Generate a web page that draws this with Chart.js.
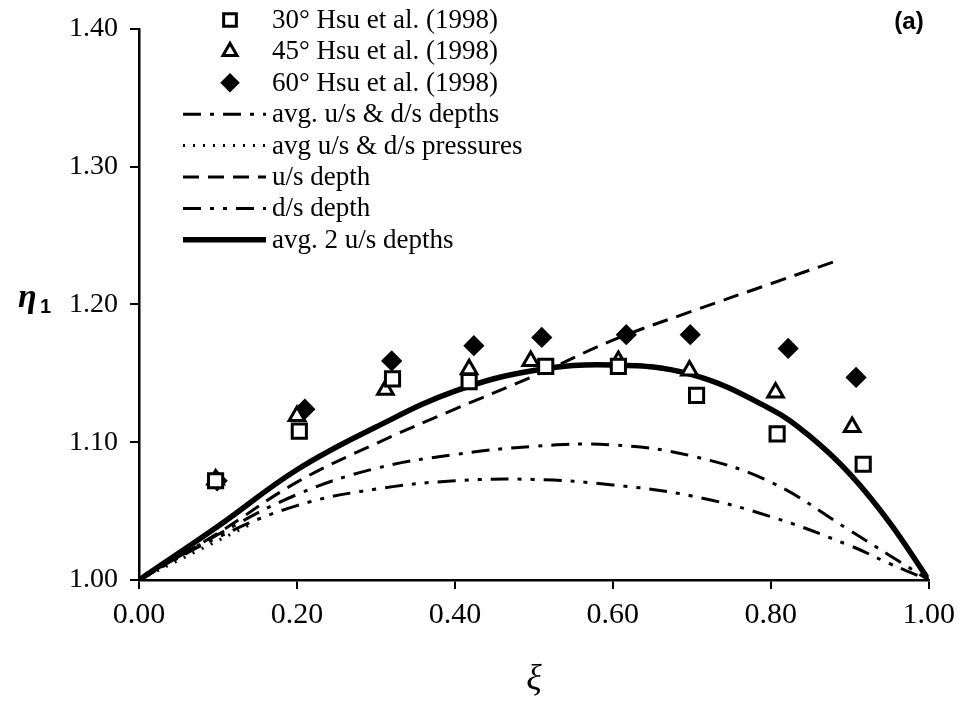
<!DOCTYPE html>
<html>
<head>
<meta charset="utf-8">
<title>eta1 vs xi</title>
<script src="https://cdn.jsdelivr.net/npm/chart.js@4.4.1/dist/chart.umd.min.js"></script>
<style>
  html, body { margin: 0; padding: 0; background: #fff; }
  #wrap { width: 963px; height: 718px; position: relative; }
</style>
</head>
<body>
<div id="wrap"><canvas id="etaChart"></canvas></div>
<script>
// Axis ticks
const xTicks = [0, 0.2, 0.4, 0.6, 0.8, 1.0];
const yTicks = [1.0, 1.1, 1.2, 1.3, 1.4];

// Experimental points (Hsu et al. 1998)
const hsu30X = [0.097, 0.203, 0.321, 0.418, 0.515, 0.607, 0.706, 0.808, 0.917];
const hsu30Y = [1.072, 1.108, 1.146, 1.144, 1.155, 1.155, 1.134, 1.106, 1.084];
const hsu45X = [0.097, 0.200, 0.312, 0.418, 0.496, 0.607, 0.697, 0.806, 0.903];
const hsu45Y = [1.073, 1.119, 1.138, 1.153, 1.159, 1.159, 1.152, 1.136, 1.111];
const hsu60X = [0.099, 0.210, 0.320, 0.424, 0.510, 0.617, 0.698, 0.822, 0.908];
const hsu60Y = [1.072, 1.124, 1.159, 1.170, 1.176, 1.178, 1.178, 1.168, 1.147];

// Model curves
const curveX = [0, 0.1, 0.2, 0.3, 0.4, 0.5, 0.6, 0.7, 0.8, 0.9, 0.95, 1.0];
const avgDepthsY = [1.000, 1.033, 1.062, 1.081, 1.091, 1.097, 1.098, 1.090, 1.071, 1.036, 1.018, 1.000];
const dsDepthY   = [1.000, 1.031, 1.054, 1.066, 1.072, 1.073, 1.069, 1.061, 1.046, 1.025, 1.012, 1.000];
const avg2X = [0, 0.1, 0.2, 0.3, 0.4, 0.5, 0.6, 0.7, 0.8, 0.85, 0.9, 0.95, 1.0];
const avg2UsY = [1.000, 1.039, 1.080, 1.111, 1.137, 1.152, 1.156, 1.149, 1.124, 1.104, 1.077, 1.042, 1.000];
const pressX = [0, 0.07, 0.14];
const pressY = [1.000, 1.020, 1.040];
const usX = [0, 0.1, 0.2, 0.3, 0.4, 0.5, 0.6, 0.7, 0.8, 0.885];
const usY = [1.000, 1.034, 1.071, 1.099, 1.124, 1.148, 1.174, 1.195, 1.215, 1.232];

function pts(xs, ys) {
    return xs.map((x, i) => ({ x: x, y: ys[i] }));
}

const SERIF = '"Liberation Serif", "DejaVu Serif", serif';

function lineSet(label, xs, ys, dash, width) {
    return {
        type: 'line',
        label: label,
        data: pts(xs, ys),
        borderColor: '#000',
        backgroundColor: '#000',
        borderWidth: width,
        borderDash: dash,
        pointRadius: 0,
        fill: false,
        tension: 0.4,
        order: 2
    };
}

function markerSet(label, xs, ys, style, radius, filled) {
    return {
        type: 'scatter',
        label: label,
        data: pts(xs, ys),
        pointStyle: style,
        pointRadius: radius,
        pointBorderWidth: 3,
        pointBorderColor: '#000',
        pointBackgroundColor: filled ? '#000' : '#fff',
        showLine: false,
        order: 1
    };
}

const datasets = [
    markerSet('30\u00B0 Hsu et al. (1998)', hsu30X, hsu30Y, 'rect', 10, false),
    markerSet('45\u00B0 Hsu et al. (1998)', hsu45X, hsu45Y, 'triangle', 9, false),
    markerSet('60\u00B0 Hsu et al. (1998)', hsu60X, hsu60Y, 'rectRot', 8.5, true),
    lineSet('avg. u/s & d/s depths', curveX, avgDepthsY, [18, 9, 4, 9], 3),
    lineSet('avg u/s & d/s pressures', pressX, pressY, [2, 8], 3),
    lineSet('u/s depth', usX, usY, [16, 9], 3),
    lineSet('d/s depth', curveX, dsDepthY, [18, 9, 4, 9, 4, 9], 3),
    lineSet('avg. 2 u/s depths', avg2X, avg2UsY, [], 5.5)
];

// Legend, axis titles and panel label
const annotatePlugin = {
    id: 'annotate',
    afterDraw(chart) {
        const ctx = chart.ctx;
        ctx.save();
        ctx.fillStyle = '#000';
        ctx.strokeStyle = '#000';

        const rowY0 = 20, rowStep = 31.4;
        const markX = 230, lineX0 = 183, lineX1 = 266, textX = 272;
        ctx.font = '27px ' + SERIF;
        ctx.textBaseline = 'middle';
        ctx.textAlign = 'left';
        chart.data.datasets.forEach((ds, i) => {
            const y = rowY0 + i * rowStep;
            if (ds.type === 'scatter') {
                ctx.lineWidth = ds.pointBorderWidth;
                ctx.fillStyle = ds.pointBackgroundColor;
                Chart.helpers.drawPoint(ctx, {
                    pointStyle: ds.pointStyle,
                    radius: ds.pointRadius * 0.9,
                    borderWidth: ds.pointBorderWidth
                }, markX, y);
            } else {
                ctx.lineWidth = ds.borderWidth;
                ctx.setLineDash(ds.borderDash);
                ctx.beginPath();
                ctx.moveTo(lineX0, y);
                ctx.lineTo(lineX1, y);
                ctx.stroke();
                ctx.setLineDash([]);
            }
            ctx.fillStyle = '#000';
            ctx.fillText(ds.label, textX, y + 1);
        });

        // panel label
        ctx.font = 'bold 24px "Liberation Sans", Arial, sans-serif';
        ctx.textAlign = 'center';
        ctx.fillText('(a)', 909, 22);

        // y title: eta with subscript 1
        ctx.font = 'bold italic 34px ' + SERIF;
        ctx.textAlign = 'left';
        ctx.fillText('\u03B7', 18, 298);
        ctx.font = 'bold 20px "Liberation Sans", Arial, sans-serif';
        ctx.fillText('1', 40, 307);

        // x title
        ctx.font = 'italic 36px ' + SERIF;
        ctx.textAlign = 'center';
        ctx.fillText('\u03BE', 534, 680);
        ctx.restore();
    }
};

new Chart(document.getElementById('etaChart'), {
    type: 'scatter',
    data: { datasets: datasets },
    options: {
        responsive: true,
        maintainAspectRatio: false,
        animation: false,
        layout: { padding: { left: 0, right: 34, top: 22, bottom: 0 } },
        plugins: {
            legend: { display: false },
            tooltip: { enabled: false }
        },
        scales: {
            x: {
                type: 'linear',
                min: 0,
                max: 1,
                afterFit: function(scale) { scale.height = 138; },
                afterBuildTicks: function(scale) {
                    scale.ticks = xTicks.map(v => ({ value: v }));
                },
                ticks: {
                    color: '#000',
                    padding: 8,
                    font: { family: SERIF, size: 30 },
                    callback: function(value) { return value.toFixed(2); }
                },
                grid: { drawOnChartArea: false, drawTicks: true, tickLength: 9, color: '#000', lineWidth: 2 },
                border: { display: true, color: '#000', width: 2.5 }
            },
            y: {
                type: 'linear',
                min: 1.0,
                max: 1.4,
                afterFit: function(scale) { scale.width = 139; },
                afterBuildTicks: function(scale) {
                    scale.ticks = yTicks.map(v => ({ value: v }));
                },
                ticks: {
                    color: '#000',
                    padding: 12,
                    font: { family: SERIF, size: 28 },
                    callback: function(value) { return value.toFixed(2); }
                },
                grid: { drawOnChartArea: false, drawTicks: true, tickLength: 9, color: '#000', lineWidth: 2 },
                border: { display: true, color: '#000', width: 2.5 }
            }
        }
    },
    plugins: [annotatePlugin]
});
</script>
</body>
</html>
